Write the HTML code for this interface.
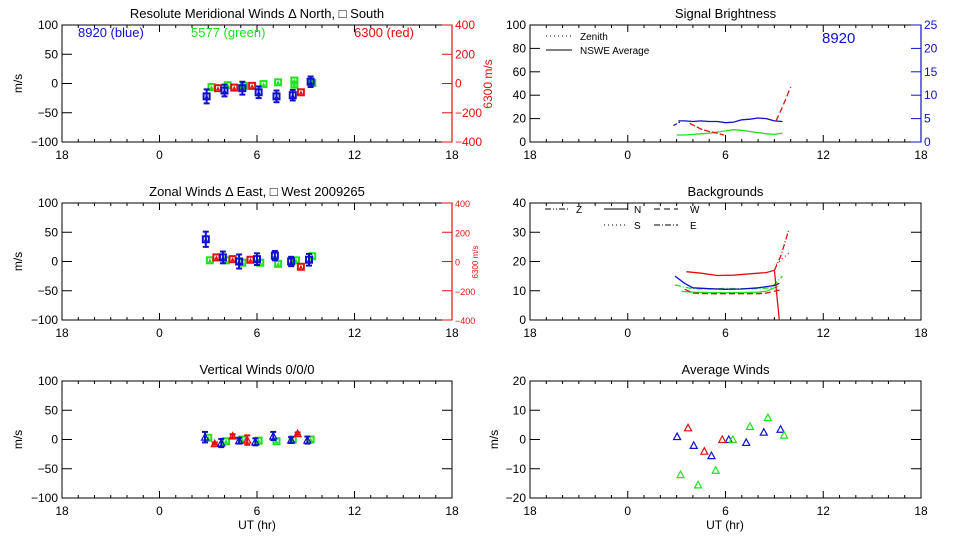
<!DOCTYPE html>
<html><head><meta charset="utf-8"><style>
html,body{margin:0;padding:0;background:#fff;}
svg{display:block;font-family:"Liberation Sans",sans-serif;}
</style></head><body>
<svg id="chart" width="960" height="540" viewBox="0 0 960 540" xmlns="http://www.w3.org/2000/svg"></svg>
<script>
// ---------- data ----------
const xTickLabels = ["18","0","6","12","18"];
const xTickHours = [-6,0,6,12,18];
// Meridional winds (left panel 1)
const merBlueX = [2.9,4.0,5.1,6.1,7.2,8.2,9.3];
const merBlueY = [-22,-12,-8,-15,-22,-20,3];
const merBlueErr = [12,10,11,10,10,9,9];
const merGreenX = [3.2,4.2,5.2,6.4,7.3,8.3,8.3,9.4];
const merGreenY = [-6,-3,-4,-1,2,5,-2,1];
const merRedX = [3.6,4.6,5.7,8.7];
const merRedY = [-8,-7,-4,-15];
// Zonal winds (left panel 2)
const zonBlueX = [2.85,3.9,4.9,6.0,7.1,8.1,9.2];
const zonBlueY = [38,7,0,4,10,0,3];
const zonBlueErr = [13,10,12,10,8,8,10];
const zonGreenX = [3.1,4.1,5.1,6.2,7.3,8.4,9.4];
const zonGreenY = [2,2,-2,-2,-4,2,9];
const zonRedX = [3.5,4.5,5.6,8.7];
const zonRedY = [7,4,3,-9];
// Vertical winds (left panel 3)
const verBlueX = [2.8,3.8,4.9,5.9,7.0,8.1,9.1];
const verBlueY = [4,-6,-2,-4,6,-1,-1];
const verBlueErr = [9,7,5,6,7,5,6];
const verGreenX = [3.0,4.1,5.1,6.1,7.2,8.2,9.3];
const verGreenY = [3,-3,0,-2,-3,0,0];
const verRedX = [3.4,4.5,5.4,8.5];
const verRedY = [-7,6,-1,10];
const verRedErr = [2,3,8,2];
// Signal brightness (right panel 1)
const sigBlueX = [3.1,3.5,4.0,4.5,5.0,5.5,6.0,6.5,7.0,7.5,8.0,8.5,9.0,9.5];
const sigBlueY = [18,18,17.5,18,17.5,17.5,16.5,17,19,19.5,20.5,20,18,17.5];
const sigBlueDashX = [2.8,3.2];
const sigBlueDashY = [14,17];
const sigGreenX = [3.0,3.5,4.0,4.5,5.0,5.5,6.0,6.5,7.0,7.5,8.0,8.5,9.0,9.5];
const sigGreenY = [6,6,6.5,7,7.5,8.5,9.5,10.5,10,9,8,7,6.5,7.5];
const sigRedX = [3.8,4.5,5.0,5.5,5.9];
const sigRedY = [16,11,9,7.5,6];
const sigRedUpX = [9.1,9.5,10.0];
const sigRedUpY = [18,30,47];
// Backgrounds (right panel 2)
const bgRedX = [3.6,4.5,5.5,6.5,7.5,8.5,9.0,9.3];
const bgRedY = [16.5,16,15.2,15.3,15.8,16.2,17,0];
const bgBlueX = [2.9,3.5,4.0,5.0,6.0,7.0,8.0,9.0,9.3];
const bgBlueY = [15,12.5,11,10.7,10.5,10.6,11,11.8,12.5];
const bgGreenX = [2.9,3.5,4.0,5.0,6.0,7.0,8.0,8.8,9.5];
const bgGreenY = [12,11.2,10.7,10.6,10.8,10.7,10.7,11,15];
const bgGreen2X = [3.3,4.0,5.0,6.0,7.0,8.0,8.5,9.2];
const bgGreen2Y = [9.8,9.5,9.4,9.3,9.4,9.5,9.8,11.5];
const bgRedDashX = [3.5,4.0,5.0,6.0,7.0,8.0,8.5,9.5];
const bgRedDashY = [10.5,9.2,9,9,9,9,9.2,10.5];
const bgRedUpX = [9.0,9.4,9.9];
const bgRedUpY = [17,22,31];
const bgRedUp2X = [9.1,9.9];
const bgRedUp2Y = [19,23];
// Average winds (right panel 3)
const avgBlueX = [3.03,4.05,5.14,6.2,7.27,8.35,9.38];
const avgBlueY = [1,-2,-5.5,0,-1,2.5,3.5];
const avgGreenX = [3.24,4.32,5.4,6.45,7.5,8.6,9.6];
const avgGreenY = [-12,-15.5,-10.5,0,4.5,7.5,1.5];
const avgRedX = [3.7,4.7,5.8];
const avgRedY = [4,-4,0];

// ---------- drawing ----------
const svg = document.getElementById('chart');
const NS = 'http://www.w3.org/2000/svg';
const BLUE='#1010c8', GREEN='#20e020', RED='#e01010';
function mk(tag, attrs, parent){
  const e=document.createElementNS(NS,tag);
  for(const k in attrs) e.setAttribute(k,attrs[k]);
  (parent||svg).appendChild(e); return e;
}
function txt(s,x,y,opts,parent){
  const t=mk('text',Object.assign({x:x,y:y,'font-size':12,fill:'#000'},opts||{}),parent);
  t.textContent=s; return t;
}
function makePanel(name,x0,x1,y0,y1,ymin,ymax,yStep,minorY){
  const g=mk('g',{});
  
  
  const sx=h=>x0+(h+6)/24*(x1-x0);
  const sy=v=>y1-(v-ymin)/(ymax-ymin)*(y1-y0);
  const box=mk('rect',{x:x0,y:y0,width:x1-x0,height:y1-y0,fill:'none',stroke:'#000','stroke-width':1},g);
  
  
  // x ticks
  for(let h=-6;h<=18;h++){
    const L=(h%6===0)?7:3;
    mk('line',{x1:sx(h),x2:sx(h),y1:y1,y2:y1-L,stroke:'#000'},g);
    mk('line',{x1:sx(h),x2:sx(h),y1:y0,y2:y0+L,stroke:'#000'},g);
  }
  xTickHours.forEach((h,i)=>{
    const t=txt(xTickLabels[i],sx(h),y1+17,{'text-anchor':'middle'},g);
    
    
  });
  return {g,sx,sy,x0,x1,y0,y1};
}
function yAxisLeft(p,vals,fs){
  vals.forEach(v=>{
    mk('line',{x1:p.x0,x2:p.x0+10,y1:p.sy(v),y2:p.sy(v),stroke:'#000'},p.g);
    const t=txt(String(v).replace('-','\u2212'),p.x0-4,p.sy(v)+4,{'text-anchor':'end','font-size':fs||12},p.g);
    
    
  });
}
function yAxisRight(p,vals,vmin,vmax,color,fs,noLabel){
  mk('line',{x1:p.x1,x2:p.x1,y1:p.y0,y2:p.y1,stroke:color,'stroke-width':1.2},p.g);
  vals.forEach(v=>{
    const y=p.y1-(v-vmin)/(vmax-vmin)*(p.y1-p.y0);
    mk('line',{x1:p.x1,x2:p.x1-10,y1:y,y2:y,stroke:color},p.g);
    const t=txt(String(v).replace('-','\u2212'),p.x1+3,y+4,{'font-size':fs||12,fill:color},p.g);
    
    
  });
}
function ticksRightBlack(p,vals){
  vals.forEach(v=>mk('line',{x1:p.x1,x2:p.x1-10,y1:p.sy(v),y2:p.sy(v),stroke:'#000'},p.g));
}
function title(p,s){
  const t=txt(s,(p.x0+p.x1)/2,p.y0-7,{'text-anchor':'middle','font-size':13},p.g);
  
  
}
function yTitle(p,s,x){
  const t=txt(s,x,(p.y0+p.y1)/2,{'text-anchor':'middle','font-size':12,transform:'rotate(-90 '+x+' '+((p.y0+p.y1)/2)+')'},p.g);
  
  
}
function points(p,xs,ys,errs,color,shape,seriesName){
  xs.forEach((h,i)=>{
    const cx=p.sx(h), cy=p.sy(ys[i]);
    const g=mk('g',{},p.g);
    
    
    if(errs){
      const e=errs[i], ya=p.sy(ys[i]+e), yb=p.sy(ys[i]-e);
      mk('line',{x1:cx,x2:cx,y1:ya,y2:yb,stroke:color,'stroke-width':2},g);
      mk('line',{x1:cx-3,x2:cx+3,y1:ya,y2:ya,stroke:color,'stroke-width':2},g);
      mk('line',{x1:cx-3,x2:cx+3,y1:yb,y2:yb,stroke:color,'stroke-width':2},g);
    }
    if(shape==='sq'){
      mk('rect',{x:cx-3,y:cy-3,width:6,height:6,fill:'none',stroke:color,'stroke-width':2},g);
      mk('path',{d:`M${cx-2},${cy+2}L${cx},${cy-2}L${cx+2},${cy+2}Z`,fill:color},g);
    } else {
      mk('path',{d:`M${cx-3.5},${cy+3}L${cx},${cy-3.5}L${cx+3.5},${cy+3}Z`,fill:'none',stroke:color,'stroke-width':1.2},g);
    }
  });
}
function line(p,xs,ys,color,dash,name){
  const d=xs.map((h,i)=>(i?'L':'M')+p.sx(h).toFixed(1)+','+p.sy(ys[i]).toFixed(1)).join('');
  const e=mk('path',{d:d,fill:'none',stroke:color,'stroke-width':1.3,'stroke-dasharray':dash||'none'},p.g);
  
  
}

// Panel 1: meridional
const p1=makePanel('meridional-winds-panel',62,452,25,142,-100,100);
title(p1,'Resolute Meridional Winds \u0394 North, \u25A1 South');
yAxisLeft(p1,[100,50,0,-50,-100]);
yAxisRight(p1,[400,200,0,-200,-400],-400,400,RED);
yTitle(p1,'m/s',22);
(function(){const t=txt('6300 m/s',492,84,{'text-anchor':'middle',fill:RED,transform:'rotate(-90 492 84)'},p1.g);

})();
[['8920 (blue)',78,BLUE],['5577 (green)',191,GREEN],['6300 (red)',354,RED]].forEach(a=>{
  const t=txt(a[0],a[1],37,{fill:a[2],'font-size':13},p1.g);
  
  
});
points(p1,merGreenX,merGreenY,null,GREEN,'sq','mer-green');
points(p1,merRedX,merRedY,null,RED,'sq','mer-red');
points(p1,merBlueX,merBlueY,merBlueErr,BLUE,'sq','mer-blue');

// Panel 2: zonal
const p2=makePanel('zonal-winds-panel',62,452,203,320,-100,100);
title(p2,'Zonal Winds \u0394 East, \u25A1 West 2009265');
yAxisLeft(p2,[100,50,0,-50,-100]);
yAxisRight(p2,[400,200,0,-200,-400],-400,400,RED,9);
yTitle(p2,'m/s',22);
(function(){const t=txt('6300 m/s',478,262,{'text-anchor':'middle',fill:RED,'font-size':8,transform:'rotate(-90 478 262)'},p2.g);

})();
points(p2,zonGreenX,zonGreenY,null,GREEN,'sq','zon-green');
points(p2,zonRedX,zonRedY,null,RED,'sq','zon-red');
points(p2,zonBlueX,zonBlueY,zonBlueErr,BLUE,'sq','zon-blue');

// Panel 3: vertical
const p3=makePanel('vertical-winds-panel',62,452,381,498,-100,100);
title(p3,'Vertical Winds 0/0/0');
yAxisLeft(p3,[100,50,0,-50,-100]);
ticksRightBlack(p3,[50,0,-50]);
yTitle(p3,'m/s',22);
(function(){const t=txt('UT (hr)',257,529,{'text-anchor':'middle'},p3.g);

})();
points(p3,verGreenX,verGreenY,null,GREEN,'sq','ver-green');
points(p3,verRedX,verRedY,verRedErr,RED,'tri','ver-red');
points(p3,verBlueX,verBlueY,verBlueErr,BLUE,'tri','ver-blue');

// Panel 4: signal brightness
const p4=makePanel('signal-brightness-panel',530,921,25,142,0,100);
title(p4,'Signal Brightness');
yAxisLeft(p4,[100,80,60,40,20,0]);
yAxisRight(p4,[25,20,15,10,5,0],0,25,BLUE);
(function(){
  mk('line',{x1:546,x2:572,y1:36,y2:36,stroke:'#000','stroke-dasharray':'1,3'},p4.g);
  mk('line',{x1:546,x2:572,y1:50,y2:50,stroke:'#000'},p4.g);
  let t=txt('Zenith',580,40,{'font-size':10},p4.g);
  
  
  t=txt('NSWE Average',580,54,{'font-size':10},p4.g);
  
  
  t=txt('8920',822,43,{'font-size':15,fill:BLUE},p4.g);
  
  
})();
line(p4,sigGreenX,sigGreenY,GREEN,null,'green-brightness');
line(p4,sigBlueX,sigBlueY,BLUE,null,'blue-brightness');
line(p4,sigBlueDashX,sigBlueDashY,BLUE,'4,2','blue-brightness-zenith');
line(p4,sigRedX,sigRedY,RED,'6,2','red-brightness');
line(p4,sigRedUpX,sigRedUpY,RED,'6,3','red-brightness-rise');

// Panel 5: backgrounds
const p5=makePanel('backgrounds-panel',530,921,203,320,0,40);
title(p5,'Backgrounds');
yAxisLeft(p5,[40,30,20,10,0]);
ticksRightBlack(p5,[30,20,10]);
(function(){
  const items=[[545,'6,2,1,2,1,2','Z',576,213],[604,'none','N',634,213],[654,'6,4','W',690,213],[604,'1,3','S',634,229],[654,'6,2,1,2','E',690,229]];
  items.forEach(a=>{
    mk('line',{x1:a[0],x2:a[0]+24,y1:a[4]-4,y2:a[4]-4,stroke:'#000','stroke-dasharray':a[1]},p5.g);
    const t=txt(a[2],a[3],a[4],{'font-size':10},p5.g);
    
    
  });
})();
line(p5,bgGreen2X,bgGreen2Y,GREEN,null,'green-bg-2');
line(p5,bgGreenX,bgGreenY,GREEN,'6,2,1,2','green-bg');
line(p5,bgBlueX,bgBlueY,BLUE,null,'blue-bg');
line(p5,bgRedDashX,bgRedDashY,RED,'6,3','red-bg-dashed');
line(p5,bgRedX,bgRedY,RED,null,'red-bg');
line(p5,bgRedUpX,bgRedUpY,RED,'6,2,1,2','red-bg-rise');
line(p5,bgRedUp2X,bgRedUp2Y,RED,'1,3','red-bg-rise-2');

// Panel 6: average winds
const p6=makePanel('average-winds-panel',530,921,381,498,-20,20);
title(p6,'Average Winds');
yAxisLeft(p6,[20,10,0,-10,-20]);
ticksRightBlack(p6,[10,0,-10]);
yTitle(p6,'m/s',498);
(function(){const t=txt('UT (hr)',725,529,{'text-anchor':'middle'},p6.g);

})();
points(p6,avgBlueX,avgBlueY,null,BLUE,'tri','avg-blue');
points(p6,avgGreenX,avgGreenY,null,GREEN,'tri','avg-green');
points(p6,avgRedX,avgRedY,null,RED,'tri','avg-red');
</script>
</body></html>
